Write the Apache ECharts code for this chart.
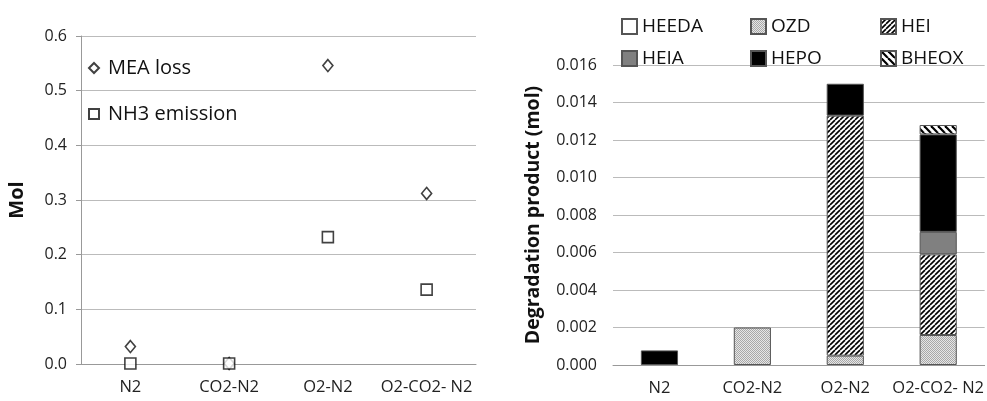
<!DOCTYPE html>
<html lang="en">
<head>
    <meta charset="UTF-8">
    <title>MEA degradation</title>
    <script src="https://cdn.jsdelivr.net/npm/echarts@6/dist/echarts.min.js"></script>
    <style>
        body { margin: 0; background: #fff; }
        #main { width: 987px; height: 401px; }
    </style>
</head>
<body>
<div id="main"></div>
<script>
    // categories shared by both panels
    var categories = ['N2', 'CO2-N2', 'O2-N2', 'O2-CO2- N2'];

    // left panel (Mol)
    var meaLoss = [0.032, 0.001, 0.546, 0.312];
    var nh3Emission = [0.001, 0.001, 0.232, 0.136];
    var leftTicks = ['0.0', '0.1', '0.2', '0.3', '0.4', '0.5', '0.6'];

    // right panel, degradation products (mol), stacked bottom to top
    var heeda = [0, 0, 0, 0];
    var ozd = [0, 0.002, 0.0005, 0.0016];
    var hei = [0, 0, 0.0128, 0.0043];
    var heia = [0, 0, 0, 0.0012];
    var hepo = [0.00078, 0, 0.0017, 0.0052];
    var bheox = [0, 0, 0, 0.0005];
    var rightTicks = ['0.000', '0.002', '0.004', '0.006', '0.008', '0.010', '0.012', '0.014', '0.016'];

    var font = 'Open Sans';

    // fill patterns
    function stripes(dir, size, lw) {
        var c = document.createElement('canvas');
        c.width = c.height = size;
        var g = c.getContext('2d');
        g.fillStyle = '#fff';
        g.fillRect(0, 0, size, size);
        g.strokeStyle = '#000';
        g.lineWidth = lw;
        for (var k = -1; k <= 1; k++) {
            g.beginPath();
            if (dir > 0) {
                g.moveTo(k * size, size);
                g.lineTo(k * size + size, 0);
            } else {
                g.moveTo(k * size, 0);
                g.lineTo(k * size + size, size);
            }
            g.stroke();
        }
        return { image: c, repeat: 'repeat' };
    }

    function stipple() {
        var c = document.createElement('canvas');
        c.width = c.height = 2;
        var g = c.getContext('2d');
        g.fillStyle = '#e6e6e6';
        g.fillRect(0, 0, 2, 2);
        g.fillStyle = '#a8a8a8';
        g.fillRect(0, 0, 1, 1);
        g.fillRect(1, 1, 1, 1);
        return { image: c, repeat: 'repeat' };
    }

    function orDash(arr) {
        return arr.map(function (v) { return v === 0 ? '-' : v; });
    }

    function barSeries(name, data, fill) {
        return {
            name: name,
            type: 'bar',
            stack: 'deg',
            xAxisIndex: 1,
            yAxisIndex: 1,
            barCategoryGap: '60%',
            data: orDash(data),
            itemStyle: { color: fill, borderColor: '#555', borderWidth: 1 }
        };
    }

    function rightLegend(x, names) {
        return {
            orient: 'vertical',
            left: x,
            top: 17,
            padding: 0,
            itemGap: 13,
            itemWidth: 15,
            itemHeight: 15,
            icon: 'rect',
            textStyle: { fontFamily: font, fontSize: 19, color: '#111' },
            data: names
        };
    }

    var tickText = { fontFamily: font, fontSize: 16, color: '#222' };

    function catAxis(i) {
        return {
            gridIndex: i,
            type: 'category',
            data: categories,
            axisLine: { lineStyle: { color: '#999' } },
            axisTick: { length: 5, lineStyle: { color: '#999' } },
            axisLabel: { fontFamily: font, fontSize: 16.5, color: '#222', margin: 15, interval: 0 }
        };
    }

    var option = {
        animation: false,
        backgroundColor: '#fff',
        legend: [
            {
                orient: 'vertical',
                left: 88,
                top: 58,
                padding: 0,
                itemGap: 26,
                itemWidth: 10,
                itemHeight: 10,
                textStyle: { fontFamily: font, fontSize: 20, color: '#111', padding: [0, 0, 0, 4] },
                data: ['MEA loss', 'NH3 emission']
            },
            rightLegend(621, ['HEEDA', 'HEIA']),
            rightLegend(750, ['OZD', 'HEPO']),
            rightLegend(880, ['HEI', 'BHEOX'])
        ],
        grid: [
            { left: 81, right: 511, top: 36, bottom: 37 },
            { left: 613, right: 2, top: 65, bottom: 36 }
        ],
        xAxis: [catAxis(0), catAxis(1)],
        yAxis: [
            {
                gridIndex: 0,
                type: 'value',
                min: 0,
                max: 0.6,
                interval: 0.1,
                name: 'Mol',
                nameLocation: 'middle',
                nameGap: 54,
                nameTextStyle: { fontFamily: font, fontSize: 20, fontWeight: 'bold', color: '#111' },
                axisLine: { show: true, lineStyle: { color: '#999' } },
                axisTick: { show: true, length: 5, lineStyle: { color: '#999' } },
                splitLine: { lineStyle: { color: '#bbb' } },
                axisLabel: Object.assign({ margin: 14, formatter: function (v) { return leftTicks[Math.round(v * 10)]; } }, tickText)
            },
            {
                gridIndex: 1,
                type: 'value',
                min: 0,
                max: 0.016,
                interval: 0.002,
                name: 'Degradation product (mol)',
                nameLocation: 'middle',
                nameGap: 70,
                nameTextStyle: { fontFamily: font, fontSize: 19.5, fontWeight: 'bold', color: '#111' },
                axisLine: { show: false },
                axisTick: { show: false },
                splitLine: { lineStyle: { color: '#bbb' } },
                axisLabel: Object.assign({ margin: 16, formatter: function (v) { return rightTicks[Math.round(v * 500)]; } }, tickText)
            }
        ],
        series: [
            {
                name: 'MEA loss',
                type: 'scatter',
                symbol: 'diamond',
                symbolSize: [10, 12],
                data: meaLoss,
                itemStyle: { color: '#fff', borderColor: '#111', borderWidth: 1.6 }
            },
            {
                name: 'NH3 emission',
                type: 'scatter',
                symbol: 'rect',
                symbolSize: 11,
                data: nh3Emission,
                itemStyle: { color: '#fff', borderColor: '#111', borderWidth: 1.6 }
            },
            barSeries('HEEDA', heeda, '#fff'),
            barSeries('OZD', ozd, stipple()),
            barSeries('HEI', hei, stripes(1, 5, 1.6)),
            barSeries('HEIA', heia, '#808080'),
            barSeries('HEPO', hepo, '#000'),
            barSeries('BHEOX', bheox, stripes(-1, 7, 2.2))
        ]
    };

    var chart = echarts.init(document.getElementById('main'));
    chart.setOption(option);
</script>
</body>
</html>
